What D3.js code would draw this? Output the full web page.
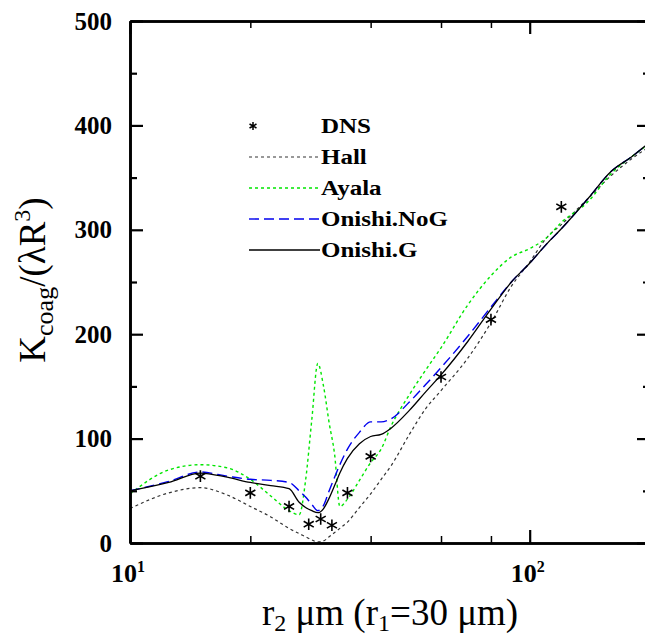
<!DOCTYPE html>
<html>
<head>
<meta charset="utf-8">
<script src="https://cdn.jsdelivr.net/npm/d3@7"></script>
<style>
  body { margin: 0; background: #fff; overflow: hidden; }
  text { font-family: "Liberation Serif", "Times New Roman", serif; }
</style>
</head>
<body>
<div id="chart"></div>
<script>
// r2 grid (um) shared by the model curves
var r2 = [10, 12.5, 15, 17.5, 20, 22.5, 25, 26.5, 27.5, 28.5, 29.5, 30.5, 31.5, 32.5, 33.5, 35, 37.5, 40, 42.5, 45, 50, 55, 60, 70, 80, 90, 100, 110, 120, 140, 160, 180, 200];

var hall     = [33, 48, 53, 46, 35, 25, 14, 9, 6, 3, 1, 2, 6, 10, 14, 20, 34, 47, 61, 74, 104, 129, 146, 177, 211, 246, 269, 292, 305, 330, 352, 368, 380];
var ayala    = [47, 70, 75, 72, 61, 45, 31, 27, 60, 118, 172, 150, 115, 85, 35, 42, 60, 77, 90, 112, 142, 166, 187, 228, 256, 274, 282, 292, 307, 327, 354, 370, 383];
var onishiNoG = [50, 59, 68, 64, 61, 60, 58, 50, 44, 37, 31, 36, 50, 63, 75, 90, 106, 116, 116, 119, 135, 152, 168, 198, 226, 250, 268, 286, 301, 330, 356, 370, 384];
var onishiG  = [50, 58, 67, 63, 58, 55, 52, 39, 34, 31, 29, 33, 43, 55, 67, 81, 95, 102, 104, 110, 127, 145, 161, 193, 224, 250, 268, 286, 301, 330, 356, 370, 384];

// DNS points
var dnsR = [15, 20, 25, 28, 30, 32, 35, 40, 60, 80, 120];
var dnsK = [64, 48, 35, 18, 23, 17, 48, 83, 159, 214, 322];

var yTicks = [0, 100, 200, 300, 400, 500];
var yMinor = [50, 150, 250, 350, 450];
var xMajor = [10, 100];
var xMinor = [20, 40, 60, 80];
var xLabels = ["1", "2"];

var legendNames = ["DNS", "Hall", "Ayala", "Onishi.NoG", "Onishi.G"];

var svgWidth = 645;
var svgHeight = 637;
var plotL = 130, plotR = 650, plotT = 21, plotB = 543;

var svg = d3.select("#chart")
  .append("svg")
  .attr("width", svgWidth)
  .attr("height", svgHeight);

var x = d3.scaleLog().domain([10, 200]).range([plotL, plotR]);
var y = d3.scaleLinear().domain([0, 500]).range([plotB, plotT]);

var series = [
  {name: "Hall", values: hall, color: "#333", dash: "3,3", width: 1.2},
  {name: "Ayala", values: ayala, color: "#00e600", dash: "3,3", width: 1.4},
  {name: "Onishi.NoG", values: onishiNoG, color: "#0000ee", dash: "10,5", width: 1.4},
  {name: "Onishi.G", values: onishiG, color: "#000", dash: null, width: 1.3}
];

var line = d3.line()
  .x(function(d) { return x(d[0]); })
  .y(function(d) { return y(d[1]); })
  .curve(d3.curveMonotoneX);

series.forEach(function(s) {
  svg.append("path")
    .datum(r2.map(function(r, i) { return [r, s.values[i]]; }))
    .attr("fill", "none")
    .attr("stroke", s.color)
    .attr("stroke-width", s.width)
    .attr("stroke-dasharray", s.dash)
    .attr("d", line);
});

var star = d3.symbol().type(d3.symbolAsterisk).size(95);
svg.selectAll(".dns")
  .data(dnsR)
  .enter()
  .append("path")
  .attr("class", "dns")
  .attr("transform", function(d, i) { return "translate(" + x(d) + "," + y(dnsK[i]) + ")"; })
  .attr("d", star)
  .attr("fill", "none")
  .attr("stroke", "#000")
  .attr("stroke-width", 1.6);

// frame + ticks
function styleAxis(g) {
  g.select(".domain").attr("stroke-width", 2.6);
  g.selectAll(".tick line").attr("stroke-width", 2.2);
}

svg.append("g")
  .attr("transform", "translate(" + plotL + ",0)")
  .call(d3.axisLeft(y).tickValues(yTicks).tickSize(-13).tickSizeOuter(0).tickPadding(18).tickFormat(d3.format("d")))
  .call(styleAxis)
  .selectAll("text")
  .attr("font-size", 25)
  .attr("font-weight", "bold")
  .attr("font-family", "'Liberation Serif', 'Times New Roman', serif")
  .attr("fill", "#000");

svg.append("g")
  .attr("transform", "translate(" + plotL + ",0)")
  .call(d3.axisLeft(y).tickValues(yMinor).tickSize(-7).tickSizeOuter(0).tickFormat(""))
  .call(styleAxis);

svg.append("g")
  .attr("transform", "translate(" + plotR + ",0)")
  .call(d3.axisRight(y).tickValues(yTicks).tickSize(-13).tickSizeOuter(0).tickFormat(""))
  .call(styleAxis);

svg.append("g")
  .attr("transform", "translate(" + plotR + ",0)")
  .call(d3.axisRight(y).tickValues(yMinor).tickSize(-7).tickSizeOuter(0).tickFormat(""))
  .call(styleAxis);

[[plotB, d3.axisBottom], [plotT, d3.axisTop]].forEach(function(a) {
  svg.append("g")
    .attr("transform", "translate(0," + a[0] + ")")
    .call(a[1](x).tickValues(xMajor).tickSize(-13).tickSizeOuter(0).tickFormat(""))
    .call(styleAxis);
  svg.append("g")
    .attr("transform", "translate(0," + a[0] + ")")
    .call(a[1](x).tickValues(xMinor).tickSize(-7).tickSizeOuter(0).tickFormat(""))
    .call(styleAxis)
    .selectAll(".tick line").attr("stroke-width", 1.5);
});

// 10^1, 10^2
xMajor.forEach(function(v, i) {
  var t = svg.append("text")
    .attr("x", x(v) - 2)
    .attr("y", 582)
    .attr("text-anchor", "middle")
    .attr("font-size", 26)
    .attr("font-weight", "bold");
  t.append("tspan").text("10");
  t.append("tspan").attr("dy", -10).attr("font-size", 16).text(xLabels[i]);
});

// axis titles
var xt = svg.append("text")
  .attr("x", 390)
  .attr("y", 625)
  .attr("text-anchor", "middle")
  .attr("font-size", 37);
xt.append("tspan").text("r");
xt.append("tspan").attr("dy", 6).attr("font-size", 24).text("2");
xt.append("tspan").attr("dy", -6).text(" \u03bcm (r");
xt.append("tspan").attr("dy", 6).attr("font-size", 24).text("1");
xt.append("tspan").attr("dy", -6).text("=30 \u03bcm)");

var yt = svg.append("text")
  .attr("transform", "translate(45,280) rotate(-90)")
  .attr("text-anchor", "middle")
  .attr("font-size", 37);
yt.append("tspan").text("K");
yt.append("tspan").attr("dy", 8).attr("font-size", 26).text("coag");
yt.append("tspan").attr("dy", -8).text("/(\u03bbR");
yt.append("tspan").attr("dy", -15).attr("font-size", 24).text("3");
yt.append("tspan").attr("dy", 15).text(")");

// legend
var legend = svg.append("g").attr("class", "legend");
legendNames.forEach(function(name, i) {
  var cy = 126 + i * 31;
  if (i === 0) {
    legend.append("path")
      .attr("transform", "translate(253," + cy + ")")
      .attr("d", d3.symbol().type(d3.symbolAsterisk).size(45))
      .attr("fill", "none")
      .attr("stroke", "#000")
      .attr("stroke-width", 1.5);
  } else {
    var s = series[i - 1];
    legend.append("line")
      .attr("x1", 249).attr("x2", 320)
      .attr("y1", cy).attr("y2", cy)
      .attr("stroke", s.color)
      .attr("stroke-width", s.width)
      .attr("stroke-dasharray", s.dash);
  }
  legend.append("text")
    .attr("transform", "translate(321," + (cy + 7) + ") scale(1.25,1)")
    .attr("font-size", 20)
    .attr("font-weight", "bold")
    .text(name);
});
</script>
</body>
</html>
